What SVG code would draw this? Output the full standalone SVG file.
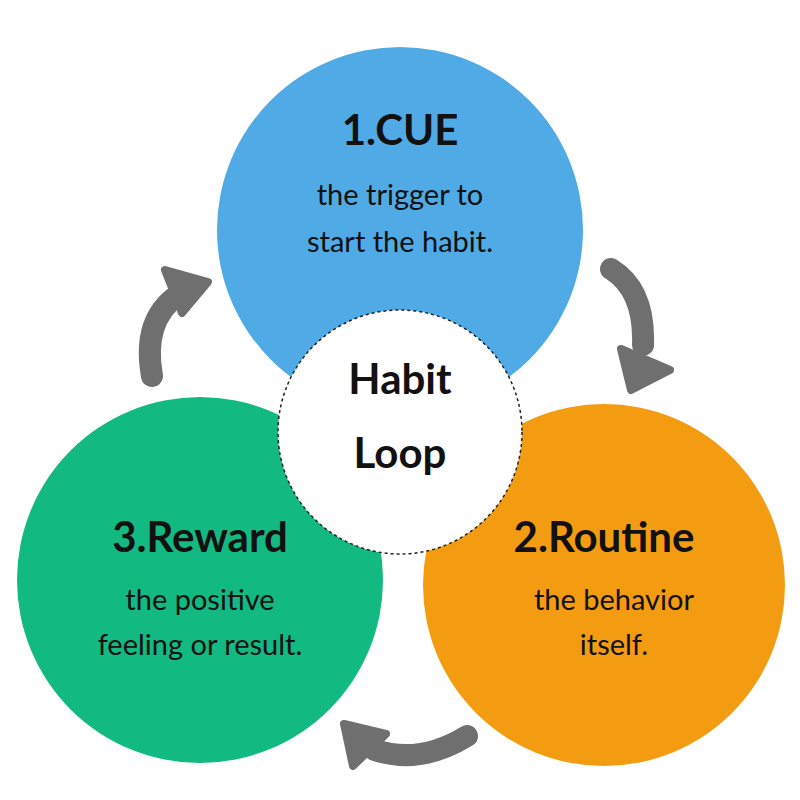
<svg xmlns="http://www.w3.org/2000/svg" width="800" height="800" viewBox="0 0 800 800">
<style>
.t{font-family:"Lato","Liberation Sans",sans-serif;fill:#111;text-anchor:middle}
.h{font-size:42px;font-weight:bold}
.s{font-size:29px}
.arr{fill:none;stroke:#6f6f6f;stroke-width:22;stroke-linecap:round}
.hd{fill:#6f6f6f;stroke:#6f6f6f;stroke-width:8;stroke-linejoin:round}
</style>
<rect width="800" height="800" fill="#fff"/>
<g id="cue"><circle cx="400" cy="230" r="183" fill="#50aae5"/>
<text class="t h" x="400" y="145">1.CUE</text>
<text class="t s" x="400" y="205">the trigger to</text>
<text class="t s" x="400" y="252">start the habit.</text></g>
<g id="reward"><circle cx="200" cy="580" r="183" fill="#12b980"/>
<text class="t h" x="200" y="552">3.Reward</text>
<text class="t s" x="200" y="610">the positive</text>
<text class="t s" x="200" y="655">feeling or result.</text></g>
<g id="routine"><circle cx="604" cy="585" r="181" fill="#f39c11"/>
<text class="t h" x="604" y="552">2.Routine</text>
<text class="t s" x="614" y="610">the behavior</text>
<text class="t s" x="614" y="655">itself.</text></g>
<g id="center"><circle cx="400" cy="432" r="122" fill="#fff" stroke="#222" stroke-width="1.5" stroke-dasharray="3,3"/>
<text class="t h" x="400" y="394">Habit</text>
<text class="t h" x="400" y="468">Loop</text></g>
<g id="connectors">
<path class="arr" d="M611 269 Q645 290 643 345"/>
<polygon class="hd" points="621,349 670,370 631,390"/>
<path class="arr" d="M467 736 Q420 765 375 750"/>
<polygon class="hd" points="344,724 386,734 353,766"/>
<path class="arr" d="M152 376 Q142 320 178 295"/>
<polygon class="hd" points="165,270 208,282 182,313"/>
</g>
</svg>
